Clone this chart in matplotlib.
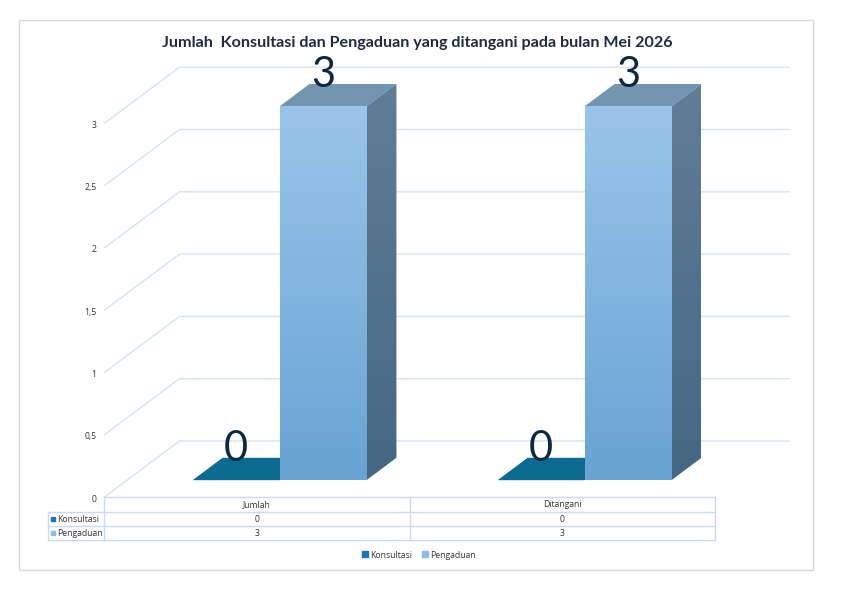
import matplotlib.pyplot as plt
import numpy as np
from matplotlib.patches import Polygon, Rectangle
from matplotlib.lines import Line2D

plt.rcParams['font.family'] = ['Open Sans', 'DejaVu Sans']

# data
categories = ['Jumlah', 'Ditangani']
series_names = ['Konsultasi', 'Pengaduan']
konsultasi = [0, 0]
pengaduan = [3, 3]
y_ticks = [0, 0.5, 1, 1.5, 2, 2.5, 3]
y_tick_labels = ['0', '0,5', '1', '1,5', '2', '2,5', '3']
title = 'Jumlah  Konsultasi dan Pengaduan yang ditangani pada bulan Mei 2026'

# layout (pixels in an 842x595 canvas)
W, H = 842, 595
X0_PX, Y0_PX = 257, 497          # category 0, value 0, front plane
CAT_PX = 305                     # pixels per category
VAL_PX = 124.6                   # pixels per value unit
DEPTH_PX = (75, 56)              # shift of the back wall
DX = DEPTH_PX[0] / CAT_PX
DY = DEPTH_PX[1] / VAL_PX
Z_FRONT, Z_BACK = 0.3, 0.7       # bar depth
BAR_W = 0.285


def px_x(px):
    return (px - X0_PX) / CAT_PX


def px_y(py):
    return (Y0_PX - py) / VAL_PX


def proj(x, y, z):
    return (x + z * DX, y + z * DY)


fig = plt.figure(figsize=(W / 100, H / 100), dpi=100)
ax = fig.add_axes([0, 0, 1, 1])
ax.set_xlim(px_x(0), px_x(W))
ax.set_ylim(px_y(H), px_y(0))
ax.axis('off')

grid_c = '#d6e3f4'
x_left, x_right = -0.5, len(categories) - 0.5
small = 6.2
txt_c = '#333333'

# back wall gridlines + diagonals + tick labels
for v, lab in zip(y_ticks, y_tick_labels):
    pts = [proj(x_left, v, 0), proj(x_left, v, 1), proj(x_right, v, 1)]
    ax.plot([p[0] for p in pts], [p[1] for p in pts], color=grid_c, lw=1, zorder=1)
    ax.annotate(lab, proj(x_left, v, 0), xytext=(-8, -2), textcoords='offset pixels',
                ha='right', va='center', fontsize=small, color=txt_c)

# bars
front_top = np.array([0x9a, 0xc5, 0xea]) / 255
front_bot = np.array([0x68, 0xa3, 0xd4]) / 255
side_top = np.array([0x60, 0x7e, 0x96]) / 255
side_bot = np.array([0x44, 0x67, 0x83]) / 255
grad = np.linspace(0, 1, 256)[:, None]


def grad_img(c_top, c_bot):
    return (c_top[None, None, :] * (1 - grad[:, :, None]) + c_bot[None, None, :] * grad[:, :, None])


series_vals = [konsultasi, pengaduan]
top_colors = ['#0d6a90', '#7395b2']
label_c = '#0e2841'

for i in range(len(categories)):
    for s, vals in enumerate(series_vals):
        v = vals[i]
        x0 = i - BAR_W + s * BAR_W
        x1 = x0 + BAR_W
        # top face
        top = [proj(x0, v, Z_FRONT), proj(x1, v, Z_FRONT), proj(x1, v, Z_BACK), proj(x0, v, Z_BACK)]
        ax.add_patch(Polygon(top, closed=True, fc=top_colors[s], ec='none', zorder=3))
        if v > 0:
            # side face
            side = [proj(x1, 0, Z_FRONT), proj(x1, v, Z_FRONT), proj(x1, v, Z_BACK), proj(x1, 0, Z_BACK)]
            sp = Polygon(side, closed=True, fc='none', ec='none', zorder=3)
            ax.add_patch(sp)
            xs = [p[0] for p in side]
            ys = [p[1] for p in side]
            im = ax.imshow(grad_img(side_top, side_bot), extent=(min(xs), max(xs), min(ys), max(ys)),
                           aspect='auto', zorder=3)
            im.set_clip_path(sp)
            # front face
            bar = ax.bar(x0 + Z_FRONT * DX, v, width=BAR_W, bottom=Z_FRONT * DY, align='edge',
                         color='none', zorder=4)[0]
            fx, fy = proj(x0, 0, Z_FRONT)
            im = ax.imshow(grad_img(front_top, front_bot), extent=(fx, fx + BAR_W, fy, fy + v),
                           aspect='auto', zorder=4)
            im.set_clip_path(bar)
        ax.annotate(str(v), proj((x0 + x1) / 2, v, Z_FRONT), xytext=(0, 31),
                    textcoords='offset pixels', ha='center', va='center',
                    fontsize=30, color=label_c, zorder=6, family='Lato')

ax.set_xlim(px_x(0), px_x(W))
ax.set_ylim(px_y(H), px_y(0))

# data table
tbl_c = '#c9dbf1'
rows_y = [px_y(497), px_y(512), px_y(526), px_y(540)]
x_lab = px_x(48)
ax.plot([x_left, x_right], [rows_y[0]] * 2, color=tbl_c, lw=1)
for ry in rows_y[1:]:
    ax.plot([x_lab, x_right], [ry] * 2, color=tbl_c, lw=1)
ax.plot([x_lab, x_lab], [rows_y[1], rows_y[3]], color=tbl_c, lw=1)
for cx in np.arange(len(categories) + 1) - 0.5:
    ax.plot([cx, cx], [rows_y[0], rows_y[3]], color=tbl_c, lw=1)

for i, cat in enumerate(categories):
    ax.text(i, (rows_y[0] + rows_y[1]) / 2, cat, ha='center', va='center', fontsize=small, color=txt_c)
    for s, vals in enumerate(series_vals):
        ax.text(i, (rows_y[s + 1] + rows_y[s + 2]) / 2, str(vals[i]), ha='center', va='center',
                fontsize=small, color=txt_c)

marker_colors = ['#1677b3', '#8cbde6']
for s, name in enumerate(series_names):
    yc = (rows_y[s + 1] + rows_y[s + 2]) / 2
    ax.plot(px_x(53), yc, marker='s', markersize=3.5, color=marker_colors[s], ls='')
    ax.text(px_x(57), yc, name, ha='left', va='center', fontsize=small, color=txt_c)

# legend
handles = [Line2D([], [], marker='s', ls='', markersize=4, color=c) for c in marker_colors]
fig.legend(handles, series_names, loc='center', bbox_to_anchor=(418 / W, 1 - 555 / H),
           ncol=2, frameon=False, fontsize=small, handletextpad=0.1, columnspacing=1.0,
           handlelength=1.0, labelcolor=txt_c)

# title and outer border
fig.text(417 / W, 1 - 43 / H, title, ha='center', va='center', fontsize=11.6,
         fontweight='bold', color='#1f2a44', family='Lato')
fig.patches.append(Rectangle((19 / W, 1 - 570 / H), 794 / W, 550 / H, transform=fig.transFigure,
                             fill=False, ec='#d9d9d9', lw=1))

fig.savefig('out.png', dpi=100)
